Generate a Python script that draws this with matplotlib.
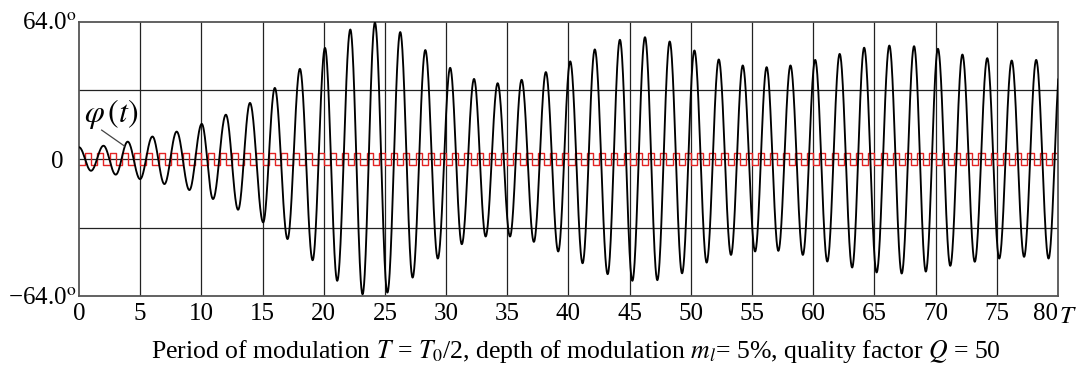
import numpy as np
import matplotlib
matplotlib.use("Agg")
import matplotlib.pyplot as plt

plt.rcParams['font.family'] = ['Liberation Serif', 'DejaVu Serif']
plt.rcParams['mathtext.fontset'] = 'stix'

# extrema of phi(t) (t in units of T, phi in degrees)
ext_t = [0.0, 0.98, 2.0, 3.0, 3.98, 4.99, 6.0, 6.98, 7.98, 9.02,
         10.03, 10.95, 12.0, 13.0, 13.97, 15.05, 16.0, 17.04, 18.05, 19.09,
         20.1, 21.1, 22.17, 23.17, 24.18, 25.2, 26.25, 27.26, 28.3, 29.32,
         30.33, 31.28, 32.28, 33.23, 34.21, 35.22, 36.17, 37.17, 38.15, 39.16,
         40.14, 41.15, 42.15, 43.2, 44.2, 45.22, 46.25, 47.26, 48.27, 49.28,
         50.29, 51.29, 52.28, 53.28, 54.24, 55.25, 56.19, 57.15, 58.14, 59.15,
         60.16, 61.15, 62.16, 63.18, 64.16, 65.18, 66.22, 67.23, 68.24, 69.2,
         70.19, 71.2, 72.19, 73.2, 74.22, 75.2, 76.22, 77.23, 78.22, 79.23,
         80.22]
ext_v = [5.5, -5.5, 6.2, -7.3, 8.1, -9.4, 10.5, -11.7, 12.8, -14.5,
         16.4, -18.7, 20.7, -23.7, 26.2, -29.6, 33.2, -37.4, 42.1, -47.3,
         51.9, -56.9, 60.5, -63.2, 63.7, -62.4, 59.3, -55.4, 50.9, -46.5,
         42.6, -39.8, 37.4, -36.2, 35.4, -36.2, 37.0, -38.7, 40.6, -43.2,
         45.6, -48.7, 51.2, -53.8, 55.7, -56.9, 56.9, -56.6, 54.9, -53.4,
         50.7, -48.4, 46.5, -44.8, 43.7, -43.2, 42.9, -42.9, 43.7, -44.8,
         46.3, -47.9, 49.1, -50.7, 52.0, -53.0, 53.0, -53.5, 52.7, -52.6,
         51.5, -49.9, 48.8, -48.0, 47.1, -46.5, 46.0, -45.7, 46.3, -46.5,
         46.0]

# square-wave modulation (red), one period per T
pump_levels = [-3.0, 3.0]
n_periods = 80

xticks = list(range(0, 81, 5))
yticks = [-64, 0, 64]
ytick_labels = ['\u221264.0$^{\\mathrm{o}}$', '0  ', '64.0$^{\\mathrm{o}}$']

# smooth half-cosine segments between the extrema
ts, vs = [], []
for i in range(len(ext_t) - 1):
    t0, t1 = ext_t[i], ext_t[i + 1]
    v0, v1 = ext_v[i], ext_v[i + 1]
    s = np.linspace(0, 1, 40, endpoint=False)
    ts.append(t0 + s * (t1 - t0))
    vs.append((v0 + v1) / 2 + (v0 - v1) / 2 * np.cos(np.pi * s))
ts = np.concatenate(ts)
vs = np.concatenate(vs)

sq_t = np.arange(0, n_periods + 0.5, 0.5)
sq_v = np.array(pump_levels * n_periods + [pump_levels[0]])

fig = plt.figure(figsize=(10.81, 3.69), dpi=100)
ax = fig.add_axes([0.0731, 0.1978, 0.9056, 0.7426])

for x in xticks[1:-1]:
    ax.axvline(x, color='#222222', lw=0.9, zorder=1)
for y in [-32, 0, 32]:
    ax.axhline(y, color='#222222', lw=0.9, zorder=1)

ax.step(sq_t, sq_v, where='post', color='#e32424', lw=1.0, zorder=2)
ax.plot(ts, vs, color='black', lw=1.35, zorder=3)

ax.set_xlim(0, 80)
ax.set_ylim(-64, 64)
ax.set_xticks(xticks)
ax.set_xticklabels([str(x) for x in xticks])
ax.set_yticks(yticks)
ax.set_yticklabels(ytick_labels)
ax.tick_params(length=0, labelsize=18, pad=5)
ax.tick_params(axis='y', pad=2)
lbl80 = ax.get_xticklabels()[-1]
lbl80.set_horizontalalignment('right')
ax.text(80.05, -68.6, '$T$', fontsize=18, ha='left', va='top', clip_on=False)

for sp in ax.spines.values():
    sp.set_color('#555555')
    sp.set_linewidth(1.3)

# label and pointer for phi(t)
ax.text(2.67, 21, r'$\varphi\,(t)$', fontsize=23, ha='center', va='center')
ax.plot([1.85, 3.7], [13.5, 6.1], color='#444444', lw=0.9, zorder=4)

fig.text(0.533, 0.048,
         'Period of modulation $T$ = $T_0$/2, depth of modulation $m_l$= 5%, '
         'quality factor $Q$ = 50', fontsize=18.5, ha='center', va='center')

fig.savefig('out.png', dpi=100)
